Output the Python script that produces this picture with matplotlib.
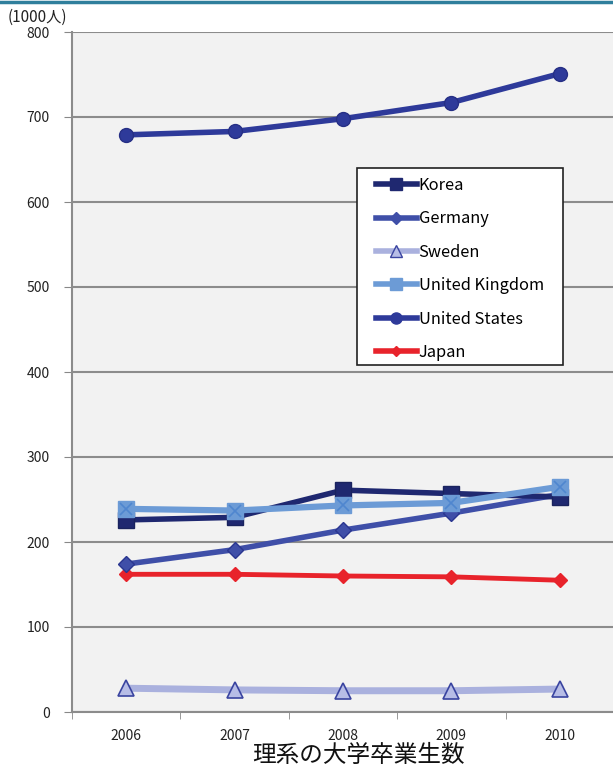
import numpy as np
import matplotlib
matplotlib.use("Agg")
import matplotlib.pyplot as plt
from matplotlib.lines import Line2D
from matplotlib.patches import Rectangle

plt.rcParams['font.family'] = ['Noto Sans CJK JP', 'DejaVu Sans']

# ---- data (thousand people) ----
years = ["2006", "2007", "2008", "2009", "2010"]
korea = [226, 229, 261, 257, 253]
germany = [174, 191, 214, 234, 256]
sweden = [28, 26, 25, 25, 27]
uk = [239, 237, 243, 246, 265]
usa = [679, 683, 698, 717, 751]
japan = [162, 162, 160, 159, 155]

W, H = 613, 769
fig = plt.figure(figsize=(W / 100, H / 100), dpi=100)
ax = fig.add_axes([72 / W, (H - 712) / H, (614 - 72) / W, (712 - 32) / H])
ax.set_facecolor("#f2f2f2")

x = np.arange(len(years))

# series styles
ax.plot(x, sweden, color="#aab1de", lw=5, marker="^", ms=11,
        mfc="#b7bde6", mec="#3a44a0", mew=1.2, zorder=3)
ax.plot(x, japan, color="#e8232b", lw=3.5, marker="D", ms=7,
        mfc="#e8232b", mec="#e8232b", zorder=4)
ax.plot(x, germany, color="#3f4fa8", lw=4, marker="D", ms=8,
        mfc="#3f4fa8", mec="#2a3690", zorder=4)
ax.plot(x, korea, color="#1f2870", lw=4, marker="s", ms=11,
        mfc="#1f2870", mec="#1a235e", zorder=5)
ax.plot(x, uk, color="#6c9bd6", lw=4.5, marker="s", ms=12,
        mfc="#6c9bd6", mec="#6c9bd6", zorder=6)
ax.plot(x, uk, ls="none", marker="x", ms=9, mec="#4f86cf", mew=1.2, zorder=7)
ax.plot(x, usa, color="#2e3a9a", lw=4, marker="o", ms=10,
        mfc="#2e3a9a", mec="#262f85", zorder=5)

ax.set_xlim(-0.5, len(years) - 0.5)
ax.set_ylim(0, 800)
ax.set_yticks(np.arange(0, 801, 100))
ax.set_xticks(x)
ax.set_xticklabels(years)
ax.set_xticks(np.arange(-0.5, len(years), 1), minor=True)
ax.tick_params(axis="x", which="major", length=0, pad=12, labelsize=10, colors="#222222")
ax.tick_params(axis="x", which="minor", length=5, color="#888888", direction="out")
ax.tick_params(axis="y", length=6, color="#888888", labelsize=10, colors="#222222", pad=10)
ax.grid(axis="y", color="#8c8c8c", lw=1.5, zorder=1)
ax.set_axisbelow(True)
for s in ("top", "right"):
    ax.spines[s].set_visible(False)
ax.spines["left"].set_color("#8c8c8c")
ax.spines["left"].set_linewidth(1.5)
ax.spines["bottom"].set_color("#8c8c8c")
ax.spines["bottom"].set_linewidth(1.5)

fig.text(358 / W, 1 - 756 / H, "理系の大学卒業生数", fontsize=17, ha="center", va="center",
         color="#111111")
fig.text(8 / W, 1 - 17 / H, "(1000人)", fontsize=11, va="center", ha="left", color="#222222")

# legend box drawn by hand, entries placed inside it
def to_ax(px, py):
    return (px - 72) / 542, (712 - py) / 680

bx0, by0 = to_ax(357, 365)
bx1, by1 = to_ax(563, 168)
ax.add_patch(Rectangle((bx0, by0), bx1 - bx0, by1 - by0, transform=ax.transAxes,
                       facecolor="white", edgecolor="#222222", lw=1.2, zorder=9,
                       clip_on=False))

handles = [
    Line2D([], [], color="#1f2870", lw=4, marker="s", ms=9, mfc="#1f2870"),
    Line2D([], [], color="#3f4fa8", lw=4, marker="D", ms=6, mfc="#3f4fa8"),
    Line2D([], [], color="#aab1de", lw=4, marker="^", ms=8, mfc="#b7bde6", mec="#3a44a0"),
    Line2D([], [], color="#6c9bd6", lw=4, marker="s", ms=9, mfc="#6c9bd6", mec="#6c9bd6"),
    Line2D([], [], color="#2e3a9a", lw=4, marker="o", ms=8, mfc="#2e3a9a"),
    Line2D([], [], color="#e8232b", lw=4, marker="D", ms=5, mfc="#e8232b"),
]
labels = ["Korea", "Germany", "Sweden", "United Kingdom", "United States", "Japan"]
leg = ax.legend(handles, labels, loc="upper left", bbox_to_anchor=to_ax(376, 177),
                frameon=False, fontsize=11.8, handlelength=2.5, handletextpad=0.1,
                labelspacing=1.0, borderpad=0, borderaxespad=0)
leg.set_zorder(10)

# teal top border
fig.add_artist(Line2D([0, 1], [1 - 1.5 / H, 1 - 1.5 / H], color="#2f7f9c", lw=2.5,
                      transform=fig.transFigure))

fig.savefig("out.png", dpi=100)
